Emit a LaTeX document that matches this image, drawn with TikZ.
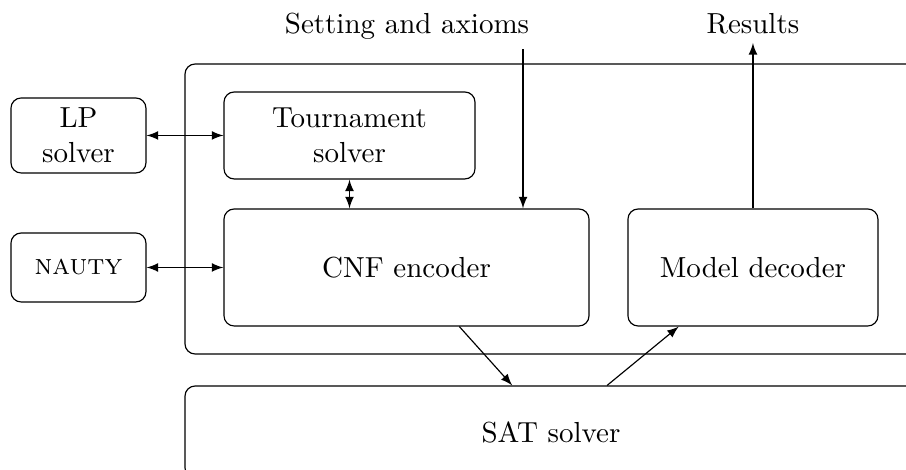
\documentclass[tikz,border=0pt]{standalone}
\usepackage{amsmath, amssymb}
\usepackage{tikz}
\usetikzlibrary{arrows}

\begin{document}
\begin{tikzpicture}[
            block/.style={draw, rounded corners=3.5pt, align=center},
            link/.style={-latex},
            twoway/.style={latex-latex}
        ]
            \clip (0, 0) rectangle (10.981, -5.696);
            % frames
            \node[draw, rounded corners=3.5pt, minimum width=8.872cm, minimum height=3.515cm] (frame) at (6.678, -2.533) {};
            \node[block, minimum width=8.872cm, minimum height=1.115cm] (sat) at (6.678, -5.236) {SAT solver};
            % tools
            \node[block, minimum width=1.636cm, minimum height=0.909cm] (lp) at (0.951, -1.642) {LP\\solver};
            \node[block, minimum width=1.636cm, minimum height=0.836cm] (nauty) at (0.951, -3.242) {\textsc{nauty}};
            \node[block, minimum width=3.042cm, minimum height=1.054cm] (tour) at (4.236, -1.642) {Tournament\\solver};
            \node[block, minimum width=4.424cm, minimum height=1.418cm] (cnf) at (4.927, -3.242) {CNF encoder};
            \node[block, minimum width=3.03cm, minimum height=1.418cm] (model) at (9.126, -3.242) {Model decoder};
            % input and output
            \node[anchor=base] (setting) at (4.933, -0.400) {Setting and axioms};
            \node[anchor=base] (results) at (9.126, -0.400) {Results};
            \coordinate (in) at (6.339, -0.594);
            \coordinate (out) at (9.126, -0.521);
            % arrows
            \draw[twoway] (lp.east) -- (tour.west);
            \draw[twoway] (nauty.east) -- (cnf.west);
            \draw[twoway] (tour.south) -- (tour.south |- cnf.north);
            \draw[link] (in) -- (in |- cnf.north);
            \draw[link] (model.north) -- (out);
            \draw[link] ([xshift=6.4mm]cnf.south) -- ([xshift=-4.7mm]sat.north);
            \draw[link] ([xshift=6.8mm]sat.north) -- ([xshift=-9mm]model.south);
        \end{tikzpicture}
\end{document}
